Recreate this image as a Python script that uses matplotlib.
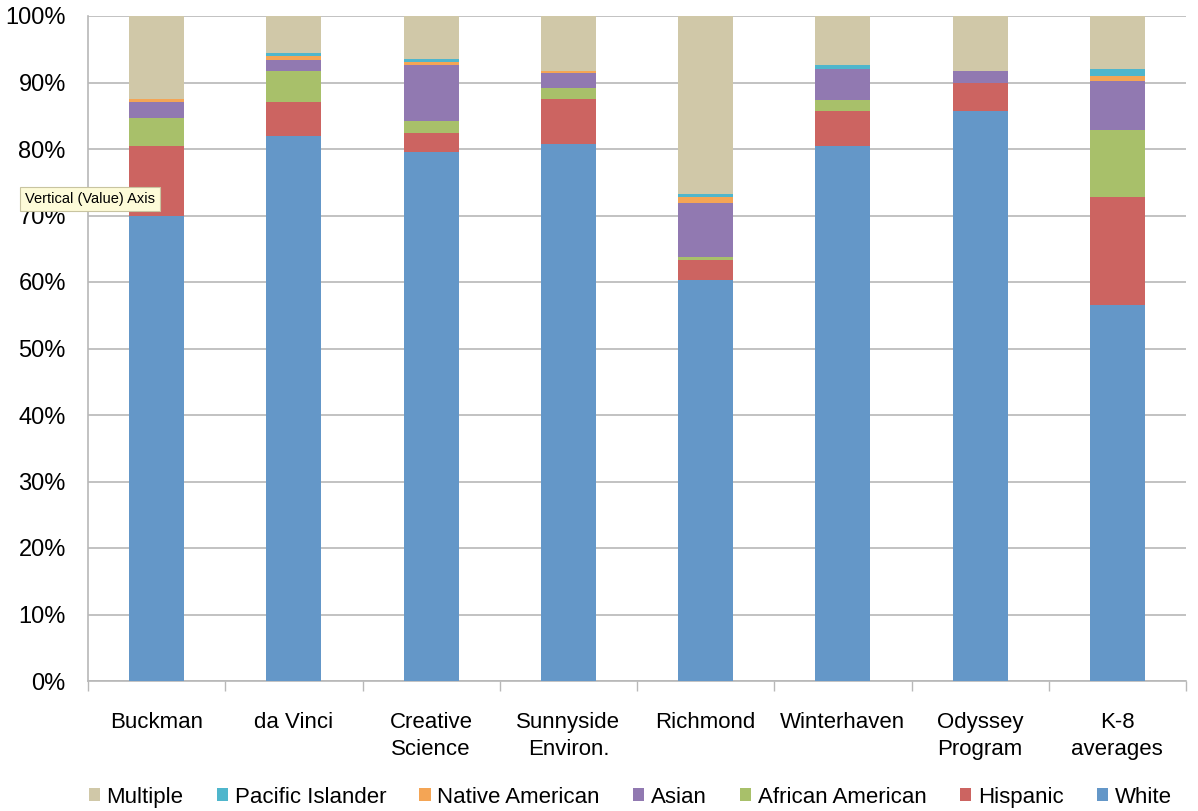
import matplotlib.pyplot as plt
import numpy as np

plt.rcParams['font.family'] = ['Liberation Sans', 'DejaVu Sans']

schools = ['Buckman', 'da Vinci', 'Creative\nScience', 'Sunnyside\nEnviron.', 'Richmond',
           'Winterhaven', 'Odyssey\nProgram', 'K-8\naverages']

# percent of enrollment by group, stacked bottom to top
white = [70.0, 81.9, 79.5, 80.8, 60.3, 80.5, 85.7, 56.5]
hispanic = [10.5, 5.2, 2.9, 6.7, 3.0, 5.2, 4.3, 16.3]
african_american = [4.2, 4.7, 1.8, 1.7, 0.5, 1.6, 0.0, 10.0]
asian = [2.3, 1.6, 8.4, 2.3, 8.1, 4.7, 1.8, 7.4]
native_american = [0.5, 0.6, 0.5, 0.2, 0.9, 0.0, 0.0, 0.8]
pacific_islander = [0.0, 0.4, 0.4, 0.0, 0.4, 0.6, 0.0, 1.0]
multiple = [12.5, 5.6, 6.5, 8.3, 26.8, 7.4, 8.2, 8.0]

series = [
    ('White', white, '#6497c8'),
    ('Hispanic', hispanic, '#cc6461'),
    ('African American', african_american, '#a8c06a'),
    ('Asian', asian, '#9179b1'),
    ('Native American', native_american, '#f4a555'),
    ('Pacific Islander', pacific_islander, '#4fb6cc'),
    ('Multiple', multiple, '#d0c8a8'),
]

fig = plt.figure(figsize=(11.98, 8.11), dpi=100)
ax = fig.add_axes([88 / 1198, 130 / 811, 1098 / 1198, 665 / 811])

x = np.arange(len(schools))
bottom = np.zeros(len(schools))
handles = {}
for name, vals, color in series:
    vals = np.array(vals)
    handles[name] = ax.bar(x, vals, width=0.4, bottom=bottom, color=color, label=name, zorder=3)
    bottom += vals

ax.set_xlim(-0.5, len(schools) - 0.5)
ax.set_ylim(0, 100)
ax.set_yticks(np.arange(0, 101, 10))
ax.set_yticklabels([f'{v}%' for v in range(0, 101, 10)], fontsize=17)
ax.yaxis.grid(True, color='#b8b8b8', linewidth=1.2, zorder=0)
ax.tick_params(axis='y', length=0, pad=16)

ax.set_xticks(x)
ax.set_xticklabels(schools, fontsize=16, linespacing=1.4, va='top')
ax.set_xticks(np.arange(-0.5, len(schools), 1), minor=True)
ax.tick_params(axis='x', which='major', length=0, pad=22)
ax.tick_params(axis='x', which='minor', length=7, color='#b8b8b8', width=1)

for side in ['top', 'right']:
    ax.spines[side].set_visible(False)
for side in ['left', 'bottom']:
    ax.spines[side].set_color('#b8b8b8')
    ax.spines[side].set_linewidth(1.2)

order = ['Multiple', 'Pacific Islander', 'Native American', 'Asian', 'African American', 'Hispanic', 'White']
fig.legend([handles[n] for n in order], order, loc='center', bbox_to_anchor=(0.526, 0.017),
           ncol=7, frameon=False, fontsize=16, handlelength=0.5, handleheight=0.5,
           handletextpad=0.3, columnspacing=1.5)

# hover tooltip over the value axis
fig.text(25 / 1198, 1 - 199 / 811, 'Vertical (Value) Axis', fontsize=10.5, va='center', ha='left',
         bbox=dict(boxstyle='square,pad=0.35', facecolor='#fdfbd8', edgecolor='#c8c4a0', linewidth=0.8),
         zorder=10)

fig.savefig('out.png', dpi=100)
